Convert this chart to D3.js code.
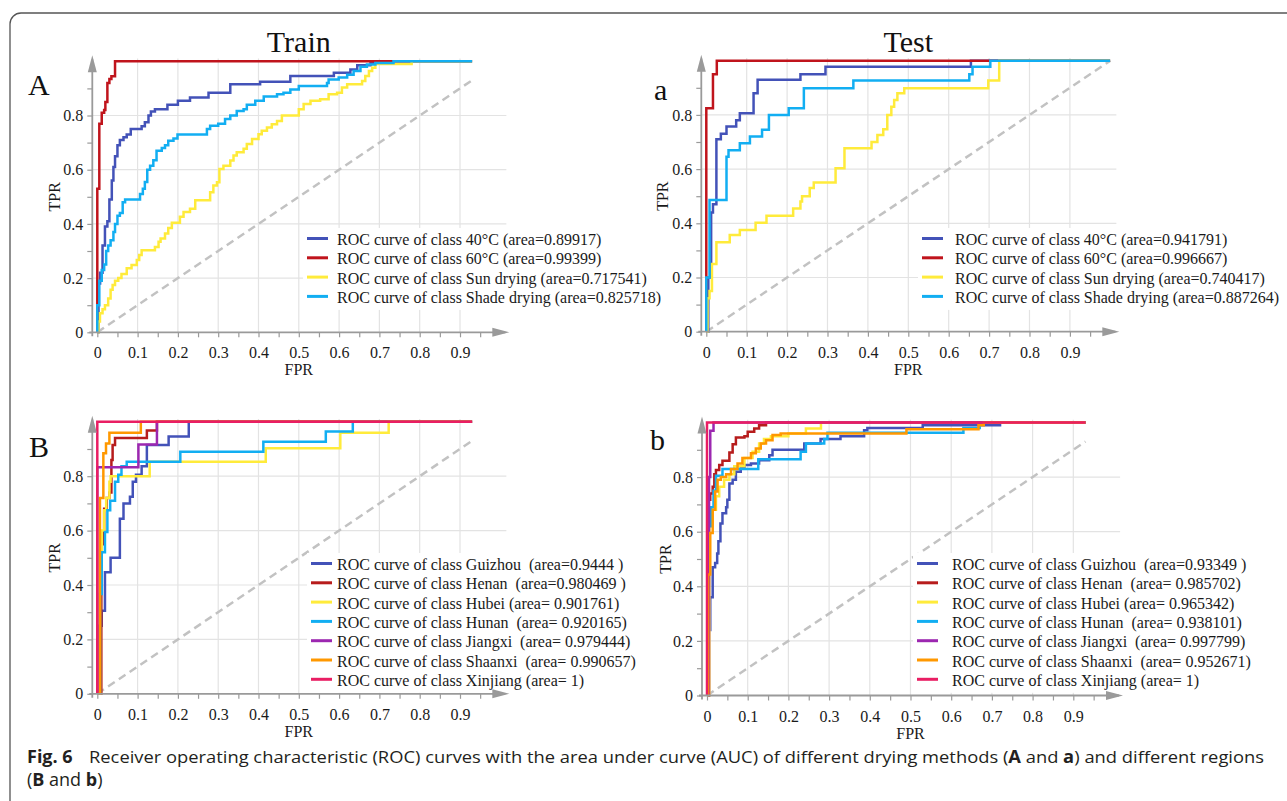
<!DOCTYPE html>
<html>
<head>
<meta charset="utf-8">
<script src="https://cdn.jsdelivr.net/npm/d3@7"></script>
<style>
  body { margin: 0; background: #fff; }
  svg text { white-space: pre; }
</style>
</head>
<body>
<div id="chart"></div>
<script>
// ---- DATA (FPR, TPR) -----------------------------------------------

// Drying methods, train set
var train40 = [[0,0],[0.003,0.18],[0.007,0.22],[0.013,0.32],[0.019,0.39],[0.025,0.41],[0.03,0.49],[0.036,0.56],[0.04,0.61],[0.044,0.65],[0.05,0.69],[0.056,0.71],[0.065,0.72],[0.073,0.73],[0.083,0.75],[0.11,0.76],[0.118,0.775],[0.127,0.8],[0.133,0.815],[0.143,0.823],[0.174,0.84],[0.2,0.854],[0.23,0.866],[0.276,0.884],[0.33,0.915],[0.404,0.925],[0.479,0.946],[0.587,0.958],[0.628,0.97],[0.645,0.985],[0.678,0.995],[0.71,1],[1,1]];
var train60 = [[0,0],[0,0.53],[0.005,0.77],[0.011,0.81],[0.017,0.82],[0.02,0.85],[0.025,0.92],[0.03,0.935],[0.035,0.945],[0.044,1],[1,1]];
var trainSun = [[0,0],[0.003,0.04],[0.0066,0.07],[0.013,0.085],[0.019,0.1],[0.027,0.125],[0.033,0.157],[0.038,0.175],[0.044,0.19],[0.052,0.2],[0.06,0.215],[0.073,0.236],[0.085,0.248],[0.098,0.267],[0.104,0.285],[0.11,0.303],[0.143,0.315],[0.152,0.334],[0.157,0.346],[0.168,0.365],[0.176,0.385],[0.185,0.404],[0.205,0.426],[0.214,0.444],[0.23,0.456],[0.243,0.487],[0.28,0.517],[0.288,0.542],[0.297,0.554],[0.303,0.603],[0.313,0.615],[0.33,0.634],[0.338,0.652],[0.346,0.664],[0.363,0.677],[0.371,0.695],[0.384,0.713],[0.4,0.731],[0.408,0.744],[0.421,0.756],[0.433,0.768],[0.446,0.78],[0.458,0.8],[0.5,0.823],[0.512,0.842],[0.529,0.854],[0.553,0.86],[0.574,0.878],[0.595,0.884],[0.607,0.903],[0.62,0.915],[0.657,0.927],[0.665,0.946],[0.674,0.964],[0.682,0.976],[0.69,0.99],[0.78,1],[1,1]];
var trainShade = [[0,0],[0,0.1],[0.005,0.19],[0.011,0.23],[0.017,0.25],[0.022,0.3],[0.027,0.32],[0.033,0.34],[0.04,0.37],[0.044,0.4],[0.05,0.43],[0.056,0.44],[0.063,0.48],[0.069,0.49],[0.106,0.51],[0.113,0.53],[0.118,0.555],[0.124,0.6],[0.131,0.615],[0.139,0.635],[0.147,0.67],[0.16,0.68],[0.168,0.69],[0.176,0.707],[0.189,0.715],[0.199,0.73],[0.272,0.75],[0.28,0.762],[0.3,0.77],[0.317,0.787],[0.33,0.8],[0.346,0.817],[0.363,0.823],[0.371,0.84],[0.392,0.854],[0.413,0.87],[0.446,0.878],[0.462,0.884],[0.479,0.896],[0.5,0.909],[0.57,0.92],[0.574,0.933],[0.599,0.94],[0.62,0.95],[0.636,0.964],[0.653,0.98],[0.669,0.988],[0.69,0.994],[0.735,1],[1,1]];

// Drying methods, test set
var test40 = [[0,0],[0.005,0.2],[0.012,0.44],[0.0165,0.47],[0.025,0.71],[0.036,0.73],[0.05,0.757],[0.074,0.78],[0.083,0.806],[0.117,0.88],[0.127,0.93],[0.233,0.95],[0.295,0.978],[0.655,1],[1,1]];
var test60 = [[0,0],[0,0.825],[0.0165,0.95],[0.026,1],[1,1]];
var testSun = [[0,0],[0.003,0.123],[0.008,0.15],[0.014,0.25],[0.025,0.33],[0.058,0.357],[0.083,0.375],[0.122,0.402],[0.149,0.428],[0.215,0.455],[0.233,0.48],[0.237,0.5],[0.256,0.53],[0.266,0.551],[0.32,0.603],[0.342,0.677],[0.409,0.7],[0.4235,0.726],[0.438,0.747],[0.448,0.8],[0.458,0.83],[0.465,0.855],[0.473,0.88],[0.49,0.898],[0.698,0.927],[0.725,1],[1,1]];
var testShade = [[0,0],[0,0.2],[0.008,0.486],[0.05,0.646],[0.055,0.67],[0.083,0.695],[0.108,0.72],[0.138,0.745],[0.155,0.8],[0.204,0.825],[0.2415,0.898],[0.364,0.927],[0.651,0.95],[0.659,0.978],[0.703,1],[1,1]];

// Regions, train set
var trainGuizhou = [[0,0],[0.005,0.25],[0.011,0.305],[0.019,0.447],[0.033,0.5],[0.056,0.644],[0.065,0.7],[0.081,0.724],[0.088,0.78],[0.096,0.805],[0.11,0.837],[0.123,0.915],[0.177,0.946],[0.227,1],[1,1]];
var trainHenan = [[0,0],[0.01,0.55],[0.017,0.68],[0.023,0.72],[0.03,0.74],[0.035,0.86],[0.038,0.915],[0.044,0.94],[0.123,0.968],[0.148,1],[1,1]];
var trainHubei = [[0,0],[0.0066,0.527],[0.011,0.6],[0.017,0.675],[0.022,0.72],[0.03,0.78],[0.033,0.8],[0.13,0.853],[0.418,0.903],[0.603,0.96],[0.723,1],[1,1]];
var trainHunan = [[0,0],[0.0066,0.367],[0.011,0.52],[0.019,0.595],[0.025,0.675],[0.032,0.71],[0.044,0.78],[0.052,0.805],[0.06,0.837],[0.073,0.853],[0.206,0.89],[0.412,0.927],[0.567,0.964],[0.634,1],[1,1]];
var trainJiangxi = [[0,0],[0,0.833],[0.102,0.917],[0.148,1],[1,1]];
var trainShaanxi = [[0,0],[0.0066,0.72],[0.015,0.884],[0.0216,0.92],[0.03,0.96],[0.108,1],[1,1]];
var trainXinjiang = [[0,0],[0,1],[1,1]];

// Regions, test set
var testGuizhou = [[0,0],[0.003,0.24],[0.008,0.36],[0.014,0.47],[0.02,0.485],[0.025,0.52],[0.028,0.565],[0.033,0.63],[0.038,0.668],[0.047,0.69],[0.05,0.717],[0.055,0.777],[0.063,0.79],[0.071,0.82],[0.083,0.832],[0.092,0.844],[0.108,0.85],[0.128,0.862],[0.153,0.88],[0.161,0.9],[0.239,0.923],[0.279,0.94],[0.328,0.95],[0.386,0.972],[0.394,0.98],[0.53,0.99],[0.72,1],[1,1]];
var testHenan = [[0,0],[0.002,0.717],[0.008,0.74],[0.014,0.765],[0.018,0.81],[0.022,0.826],[0.03,0.844],[0.038,0.86],[0.055,0.89],[0.063,0.92],[0.071,0.945],[0.092,0.95],[0.1,0.966],[0.116,0.978],[0.128,0.99],[0.145,1],[1,1]];
var testHubei = [[0,0],[0.006,0.63],[0.014,0.68],[0.022,0.73],[0.03,0.765],[0.042,0.79],[0.055,0.81],[0.067,0.84],[0.092,0.87],[0.112,0.893],[0.128,0.923],[0.14,0.94],[0.157,0.95],[0.2,0.96],[0.243,0.978],[0.28,1],[1,1]];
var testHunan = [[0,0],[0.003,0.62],[0.01,0.69],[0.016,0.75],[0.022,0.805],[0.038,0.83],[0.126,0.865],[0.23,0.893],[0.243,0.923],[0.288,0.94],[0.296,0.962],[0.63,0.98],[0.67,1],[1,1]];
var testJiangxi = [[0,0],[0.005,0.8],[0.008,0.97],[0.016,1],[1,1]];
var testShaanxi = [[0,0],[0.003,0.443],[0.008,0.595],[0.014,0.68],[0.02,0.747],[0.026,0.79],[0.034,0.8],[0.047,0.81],[0.059,0.83],[0.075,0.85],[0.087,0.87],[0.108,0.887],[0.12,0.905],[0.132,0.923],[0.145,0.935],[0.161,0.954],[0.181,0.96],[0.49,0.975],[0.667,0.99],[0.68,1],[1,1]];
var testXinjiang = [[0,0],[0,1],[1,1]];

// Legend labels
var trainDryLabels = ["ROC curve of class 40°C (area=0.89917)", "ROC curve of class 60°C (area=0.99399)", "ROC curve of class Sun drying (area=0.717541)", "ROC curve of class Shade drying (area=0.825718)"];
var testDryLabels = ["ROC curve of class 40°C (area=0.941791)", "ROC curve of class 60°C (area=0.996667)", "ROC curve of class Sun drying (area=0.740417)", "ROC curve of class Shade drying (area=0.887264)"];
var trainRegionLabels = ["ROC curve of class Guizhou  (area=0.9444 )", "ROC curve of class Henan  (area=0.980469 )", "ROC curve of class Hubei (area= 0.901761)", "ROC curve of class Hunan  (area= 0.920165)", "ROC curve of class Jiangxi  (area= 0.979444)", "ROC curve of class Shaanxi  (area= 0.990657)", "ROC curve of class Xinjiang (area= 1)"];
var testRegionLabels = ["ROC curve of class Guizhou  (area=0.93349 )", "ROC curve of class Henan  (area= 0.985702)", "ROC curve of class Hubei (area= 0.965342)", "ROC curve of class Hunan  (area= 0.938101)", "ROC curve of class Jiangxi  (area= 0.997799)", "ROC curve of class Shaanxi  (area= 0.952671)", "ROC curve of class Xinjiang (area= 1)"];

// Tick values
var xTicks = d3.range(0, 20).map(function(i) { return i / 20; });
var yTicks = d3.range(0, 10).map(function(i) { return i / 10; });
var gridX = d3.range(1, 10).map(function(i) { return i / 10; });
var gridY = [0.2, 0.4, 0.6, 0.8];

// ---- STYLE ----------------------------------------------------------

var dryColors = ["#4352b8", "#c0141c", "#ffeb3b", "#12aef2"];
var regionColors = ["#4352b8", "#b71c1c", "#ffeb3b", "#12aef2", "#9c27b0", "#ff9800", "#e91e63"];
var serif = "'Liberation Serif', 'Times New Roman', serif";
var axisColor = "#9a9a9a";

var svg = d3.select("#chart")
  .append("svg")
  .attr("width", 1287)
  .attr("height", 801);

svg.append("rect").attr("width", 1287).attr("height", 801).attr("fill", "#fff");

// figure frame
svg.append("rect")
  .attr("x", 10).attr("y", 13)
  .attr("width", 1310).attr("height", 830)
  .attr("rx", 11)
  .attr("fill", "none")
  .attr("stroke", "#555")
  .attr("stroke-width", 1.3);

function drawPanel(p) {
  var x = d3.scaleLinear().domain([0, 1]).range([p.ox, p.ox + p.w]);
  var y = d3.scaleLinear().domain([0, 1]).range([p.oy, p.oy - p.h]);
  var ax = p.ox - 5; // y axis sits a bit left of FPR = 0
  var g = svg.append("g");

  // grid
  g.selectAll(".hg").data(gridY).enter().append("line")
    .attr("x1", ax).attr("x2", x(1.015))
    .attr("y1", function(d) { return y(d); })
    .attr("y2", function(d) { return y(d); })
    .attr("stroke", "#e3e3e3").attr("stroke-width", 1.2);
  g.selectAll(".vg").data(gridX).enter().append("line")
    .attr("x1", function(d) { return x(d); })
    .attr("x2", function(d) { return x(d); })
    .attr("y1", y(0)).attr("y2", y(1.01))
    .attr("stroke", "#e3e3e3").attr("stroke-width", 1.2);

  // chance line
  g.append("line")
    .attr("x1", x(0)).attr("y1", y(0))
    .attr("x2", x(p.clip)).attr("y2", y(p.clip))
    .attr("stroke", "#c2c2c2").attr("stroke-width", 2.5)
    .attr("stroke-dasharray", "8,5");

  // curves
  svg.append("clipPath").attr("id", "clip" + p.id)
    .append("rect")
    .attr("x", x(-0.05)).attr("y", y(1.05))
    .attr("width", x(p.clip) - x(-0.05))
    .attr("height", y(-0.05) - y(1.05));

  var line = d3.line()
    .x(function(d) { return x(d[0]); })
    .y(function(d) { return y(d[1]); })
    .curve(d3.curveStepAfter);

  g.append("g").attr("clip-path", "url(#clip" + p.id + ")")
    .selectAll("path").data(p.series).enter().append("path")
    .attr("d", line)
    .attr("fill", "none")
    .attr("stroke", function(d, i) { return p.colors[i]; })
    .attr("stroke-width", 2.5);

  // legend
  var lg = g.append("g");
  var bg = lg.append("rect").attr("fill", "#fff");
  p.labels.forEach(function(t, i) {
    var by = p.ly + i * 19.3;
    lg.append("line")
      .attr("x1", p.lx).attr("x2", p.lx + 21)
      .attr("y1", by - 6.5).attr("y2", by - 6.5)
      .attr("stroke", p.colors[i]).attr("stroke-width", 3);
    lg.append("text")
      .attr("x", p.tx).attr("y", by)
      .attr("font-family", serif).attr("font-size", 16)
      .attr("fill", "#1a1a1a")
      .text(t);
  });
  var bb = lg.node().getBBox();
  bg.attr("x", p.lx - 4).attr("y", p.ly - 17)
    .attr("width", bb.x + bb.width - p.lx + 10)
    .attr("height", (p.labels.length - 1) * 19.3 + 24);

  // axes
  var yAxis = d3.axisLeft(y).tickValues(yTicks).tickSize(5).tickPadding(4)
    .tickFormat(function(d) {
      var k = Math.round(d * 10);
      return k % 2 ? "" : String(k / 10);
    });
  var ya = g.append("g").attr("transform", "translate(" + ax + ",0)").call(yAxis);

  var xAxis = d3.axisBottom(x).tickValues(xTicks).tickSize(5)
    .tickFormat(function(d) {
      var k = Math.round(d * 20);
      return k % 2 ? "" : String(k / 20);
    });
  var xa = g.append("g").attr("transform", "translate(0," + p.oy + ")").call(xAxis);
  xa.selectAll("text").attr("y", 26).attr("dy", 0);

  [ya, xa].forEach(function(a) {
    a.select(".domain").remove();
    a.selectAll("line").attr("stroke", axisColor).attr("stroke-width", 1.2);
    a.selectAll("text").attr("font-family", serif).attr("font-size", 16).attr("fill", "#1a1a1a");
  });

  var yTip = y(1) - 6, xTip = x(1) + 9;
  g.append("line").attr("x1", ax).attr("x2", ax).attr("y1", p.oy + 4).attr("y2", yTip + 4)
    .attr("stroke", axisColor).attr("stroke-width", 1.8);
  g.append("path")
    .attr("d", "M" + ax + "," + yTip + "L" + (ax - 4.5) + "," + (yTip + 17) + "L" + (ax + 4.5) + "," + (yTip + 17) + "Z")
    .attr("fill", axisColor);
  g.append("line").attr("x1", ax - 3).attr("x2", xTip - 4).attr("y1", p.oy).attr("y2", p.oy)
    .attr("stroke", axisColor).attr("stroke-width", 1.8);
  g.append("path")
    .attr("d", "M" + xTip + "," + p.oy + "L" + (xTip - 17) + "," + (p.oy - 4.5) + "L" + (xTip - 17) + "," + (p.oy + 4.5) + "Z")
    .attr("fill", axisColor);

  // axis titles
  g.append("text")
    .attr("x", x(0.5)).attr("y", p.oy + 43)
    .attr("text-anchor", "middle")
    .attr("font-family", serif).attr("font-size", 16).attr("fill", "#1a1a1a")
    .text("FPR");
  g.append("text")
    .attr("transform", "translate(" + p.tprX + "," + y(0.5) + ") rotate(-90)")
    .attr("text-anchor", "middle")
    .attr("dy", "0.35em")
    .attr("font-family", serif).attr("font-size", 16).attr("fill", "#1a1a1a")
    .text("TPR");

  // panel letter
  g.append("text")
    .attr("x", p.letterX).attr("y", p.letterY)
    .attr("font-family", serif).attr("font-size", 30).attr("fill", "#111")
    .text(p.letter);

  if (p.title) {
    g.append("text")
      .attr("x", x(0.5)).attr("y", 52)
      .attr("text-anchor", "middle")
      .attr("font-family", serif).attr("font-size", 30).attr("fill", "#111")
      .text(p.title);
  }
}

drawPanel({ id: "A", ox: 97.3, oy: 332.3, w: 403, h: 271, clip: 0.93,
  series: [train40, train60, trainSun, trainShade], colors: dryColors, labels: trainDryLabels,
  lx: 307, tx: 337, ly: 245, tprX: 54, letter: "A", letterX: 28, letterY: 95, title: "Train" });

drawPanel({ id: "a", ox: 706.3, oy: 331.7, w: 404, h: 271, clip: 1,
  series: [test40, test60, testSun, testShade], colors: dryColors, labels: testDryLabels,
  lx: 922, tx: 955, ly: 245, tprX: 662, letter: "a", letterX: 654, letterY: 100, title: "Test" });

drawPanel({ id: "B", ox: 97.3, oy: 693.8, w: 403, h: 272, clip: 0.93,
  series: [trainGuizhou, trainHenan, trainHubei, trainHunan, trainJiangxi, trainShaanxi, trainXinjiang],
  colors: regionColors, labels: trainRegionLabels,
  lx: 311, tx: 337, ly: 570, tprX: 54, letter: "B", letterX: 29, letterY: 457 });

drawPanel({ id: "b", ox: 707, oy: 695.5, w: 407, h: 273, clip: 0.93,
  series: [testGuizhou, testHenan, testHubei, testHunan, testJiangxi, testShaanxi, testXinjiang],
  colors: regionColors, labels: testRegionLabels,
  lx: 917, tx: 952, ly: 570, tprX: 665, letter: "b", letterX: 650, letterY: 450 });

// ---- CAPTION --------------------------------------------------------

var capFont = "'Open Sans', 'Noto Sans', sans-serif";
var capColor = "#231f20";
var capSize = 17;

svg.append("text")
  .attr("x", 27).attr("y", 763)
  .attr("font-family", capFont).attr("font-size", capSize + 1).attr("font-weight", "bold")
  .attr("fill", capColor)
  .text("Fig. 6");

var cap1 = svg.append("text")
  .attr("x", 89).attr("y", 763)
  .attr("font-family", capFont).attr("font-size", capSize)
  .attr("fill", capColor)
  .attr("textLength", 1175)
  .attr("lengthAdjust", "spacingAndGlyphs");
[["Receiver operating characteristic (ROC) curves with the area under curve (AUC) of different drying methods (", false],
 ["A", true], [" and ", false], ["a", true], [") and different regions", false]].forEach(function(s) {
  cap1.append("tspan").attr("font-weight", s[1] ? "bold" : null).text(s[0]);
});

var cap2 = svg.append("text")
  .attr("x", 27).attr("y", 786)
  .attr("font-family", capFont).attr("font-size", capSize + 1)
  .attr("fill", capColor);
[["(", false], ["B", true], [" and ", false], ["b", true], [")", false]].forEach(function(s) {
  cap2.append("tspan").attr("font-weight", s[1] ? "bold" : null).text(s[0]);
});
</script>
</body>
</html>
